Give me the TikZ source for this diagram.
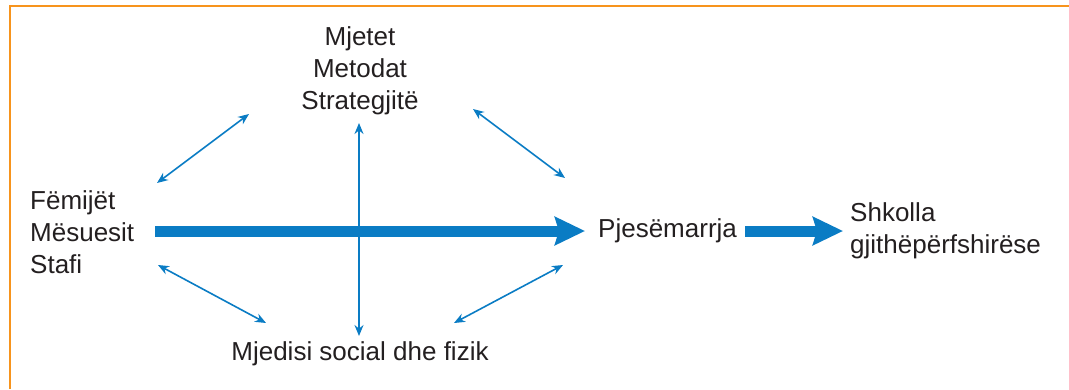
\documentclass[tikz,border=0pt]{standalone}
\usepackage{fontspec}
\setmainfont{Liberation Sans}
\usetikzlibrary{arrows.meta}
\definecolor{flowblue}{HTML}{0A7CC4}
\definecolor{frameorange}{HTML}{F7941D}
\definecolor{textgray}{HTML}{231F20}
\begin{document}
\begin{tikzpicture}[x=1pt,y=-1pt,
	label text/.style={inner sep=0pt,text=textgray,font=\fontsize{26}{32}\selectfont},
	big arrow/.style={flowblue,line width=11pt,-{Stealth[length=30pt,width=28pt,inset=4pt]}},
	thin arrow/.style={flowblue,line width=1.6pt,{Stealth[length=11pt,width=9pt]}-{Stealth[length=11pt,width=9pt]}}]
		\useasboundingbox (0,0) rectangle (1069,389);
		\draw [frameorange,line width=2pt] (10,389) -- (10,6) -- (1069,6);
		% nodes
		\node [label text,anchor=west,align=left] at (30,232) (fem) {Fëmijët\\Mësuesit\\Stafi};
		\node [label text,align=center] at (360,71) (mje) {Mjetet\\Metodat\\Strategjitë};
		\node [label text] at (360,354) (mjed) {Mjedisi social dhe fizik};
		\node [label text,anchor=west] at (598,231) (pje) {Pjesëmarrja};
		\node [label text,anchor=west,align=left] at (850,231) (shk) {Shkolla\\gjithëpërfshirëse};
		% free ends of the thin arrows
		\coordinate (ul1) at (157,183);
		\coordinate (ul2) at (249,114);
		\coordinate (ur1) at (473,109);
		\coordinate (ur2) at (565,178);
		\coordinate (ll1) at (158,265);
		\coordinate (ll2) at (266,323);
		\coordinate (lr1) at (563,265);
		\coordinate (lr2) at (454,323);
		\coordinate (vt) at (359,123);
		\coordinate (vb) at (359,336);
		% arrows
		\draw [big arrow] ([xshift=21pt]fem.east |- pje.west) -- ([xshift=-13pt]pje.west);
		\draw [big arrow] ([xshift=8pt]pje.east) -- ([xshift=-7pt]shk.west);
		\draw [thin arrow] (vt) -- (vb);
		\draw [thin arrow] (ul1) -- (ul2);
		\draw [thin arrow] (ur1) -- (ur2);
		\draw [thin arrow] (ll1) -- (ll2);
		\draw [thin arrow] (lr1) -- (lr2);
\end{tikzpicture}
\end{document}
